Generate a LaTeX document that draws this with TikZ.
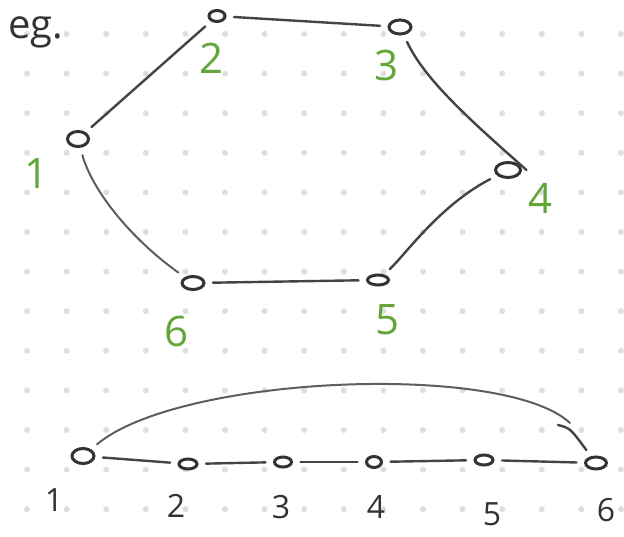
\documentclass[tikz,border=0pt]{standalone}
\usepackage{fontspec}
\setmainfont{Open Sans}
\usetikzlibrary{shapes.geometric}
\definecolor{ink}{HTML}{333333}
\definecolor{inkmid}{HTML}{444444}
\definecolor{inklight}{HTML}{5E5E5E}
\definecolor{leaf}{HTML}{62A63A}
\definecolor{dotc}{HTML}{DEDEDE}
\begin{document}
\begin{tikzpicture}[x=1pt,y=-1pt,
  vert/.style={ellipse, draw=ink, line width=3pt, inner sep=0pt, outer sep=6pt},
  edge/.style={draw=inkmid, line width=2.4pt, line cap=round, shorten >=3pt, shorten <=3pt},
  edgelight/.style={draw=inklight, line width=2pt, line cap=round, shorten >=3pt, shorten <=3pt},
  lbl/.style={text=leaf, inner sep=0pt, font=\fontsize{42}{42}\selectfont},
  blbl/.style={text=ink, inner sep=0pt, font=\fontsize{32}{32}\selectfont}]
\fill[white] (0,0) rectangle (624,536);
\useasboundingbox (0,0) rectangle (624,536);
\foreach \i in {0,...,15}
  \foreach \j in {0,...,12}
    \fill[dotc] ({27+39.6*\i},{34+39.6*\j}) circle[radius=3pt];

% title
\node[text=ink, inner sep=0pt, anchor=base west, font=\fontsize{40}{40}\selectfont] (eg) at (8,38) {eg.};

% hexagon
\node[vert, minimum width=21pt, minimum height=15pt] (n1) at (78,139) {};
\node[vert, minimum width=16pt, minimum height=11pt] (n2) at (217,16) {};
\node[vert, minimum width=22pt, minimum height=14pt] (n3) at (400,27) {};
\node[vert, minimum width=25pt, minimum height=15pt] (n4) at (508,170) {};
\node[vert, minimum width=21pt, minimum height=10pt] (n5) at (378,280) {};
\node[vert, minimum width=22pt, minimum height=13pt] (n6) at (193,283) {};

\draw[edge] (n2) -- (n3);
\draw[edge] (n2) -- (n1);
\draw[edgelight] (n1) .. controls (92,190) and (130,238) .. (n6);
\draw[edge] (n6) -- (n5);
\draw[edge] (n5) .. controls (405,255) and (440,205) .. (n4);
\draw[edge, shorten >=0pt] (n3) .. controls (425,80) and (470,120) .. (n4.east);

\node[lbl] (l1) at (37,174) {1};
\node[lbl] (l2) at (212,58) {2};
\node[lbl] (l3) at (387,65) {3};
\node[lbl] (l4) at (541,198) {4};
\node[lbl] (l5) at (388,320) {5};
\node[lbl] (l6) at (177,331) {6};

% path graph
\node[vert, minimum width=22pt, minimum height=15pt] (b1) at (83,456) {};
\node[vert, minimum width=18pt, minimum height=10pt] (b2) at (188,464) {};
\node[vert, minimum width=17pt, minimum height=10pt] (b3) at (283,462) {};
\node[vert, minimum width=15pt, minimum height=11pt] (b4) at (374,462) {};
\node[vert, minimum width=18pt, minimum height=10pt] (b5) at (484,460) {};
\node[vert, minimum width=21pt, minimum height=12pt] (b6) at (596,463) {};

\draw[edge] (b1) -- (b2);
\draw[edge] (b2) -- (b3);
\draw[edge] (b3) -- (b4);
\draw[edge] (b4) -- (b5);
\draw[edge] (b5) -- (b6);

\coordinate (arcend) at (570,423);
\coordinate (hook) at (558,425);
\draw[edgelight, shorten >=0pt] (b1) .. controls (180,375) and (505,362) .. (arcend);
\draw[edge, shorten <=0pt] (hook) .. controls (570,428) .. (b6);

\node[blbl] (k1) at (54,500) {1};
\node[blbl] (k2) at (176,506) {2};
\node[blbl] (k3) at (281,507) {3};
\node[blbl] (k4) at (376,507) {4};
\node[blbl] (k5) at (492,514) {5};
\node[blbl] (k6) at (606,510) {6};
\end{tikzpicture}
\end{document}
